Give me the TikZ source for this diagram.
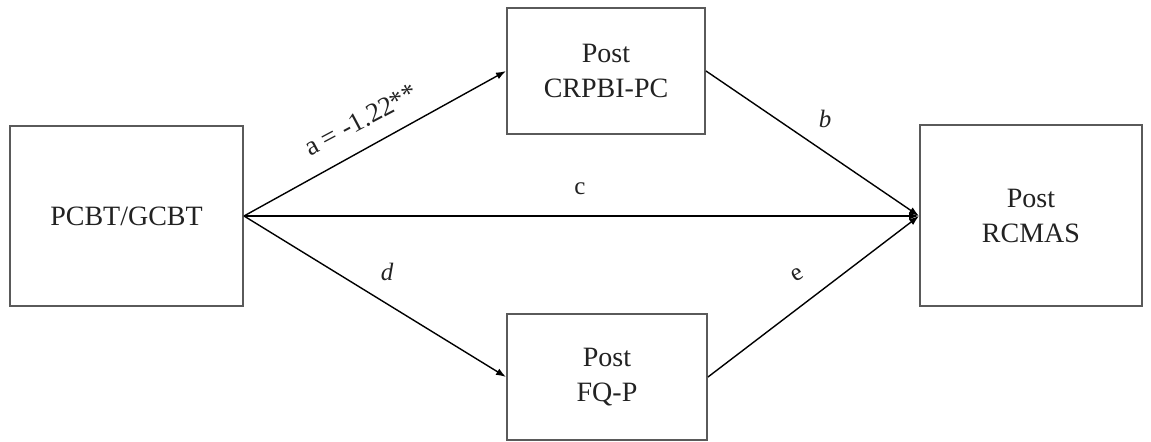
\documentclass[tikz,border=0pt]{standalone}
\usepackage{fontspec}
\setmainfont{Liberation Serif}
\usetikzlibrary{arrows.meta}
\definecolor{boxgray}{HTML}{5A5A5A}
\definecolor{txt}{HTML}{222222}
\begin{document}
\begin{tikzpicture}[x=0.5pt,y=-0.5pt,
  varbox/.style={draw=boxgray,line width=1pt,fill=white,inner sep=0pt,align=center,
    text=txt,font=\fontsize{14}{17.5}\selectfont},
  path/.style={draw=black,line width=0.7pt,-{Latex[length=5pt,width=3.6pt]}},
  lbl/.style={text=txt,font=\fontsize{12.5}{14}\selectfont,inner sep=0pt}]
\useasboundingbox (0,0) rectangle (1151,442);
\node[varbox,minimum width=116.5pt,minimum height=90pt] (x) at (126.5,216) {PCBT/GCBT};
\node[varbox,minimum width=99pt,minimum height=63pt] (m1) at (606,71) {Post\\CRPBI-PC};
\node[varbox,minimum width=100pt,minimum height=63pt] (m2) at (607,377) {Post\\FQ-P};
\node[varbox,minimum width=111pt,minimum height=90.5pt] (y) at (1031,216) {Post\\RCMAS};
\draw[path] (x.east) -- (m1.west);
\draw[path] (x.east) -- (m2.west);
\draw[path] (x.east) -- (y.west);
\draw[path] (m1.east) -- (y.west);
\draw[path] (m2.east) -- (y.west);
\node[lbl,rotate=28,font=\fontsize{13.5}{15}\selectfont] (la) at (361,120) {a = -1.22**};
\node[lbl] (lb) at (825,119) {\itshape b};
\node[lbl] (lc) at (580,189) {c};
\node[lbl] (ld) at (387,272) {\itshape d};
\node[lbl,rotate=30] (le) at (797,275) {e};
\end{tikzpicture}
\end{document}
